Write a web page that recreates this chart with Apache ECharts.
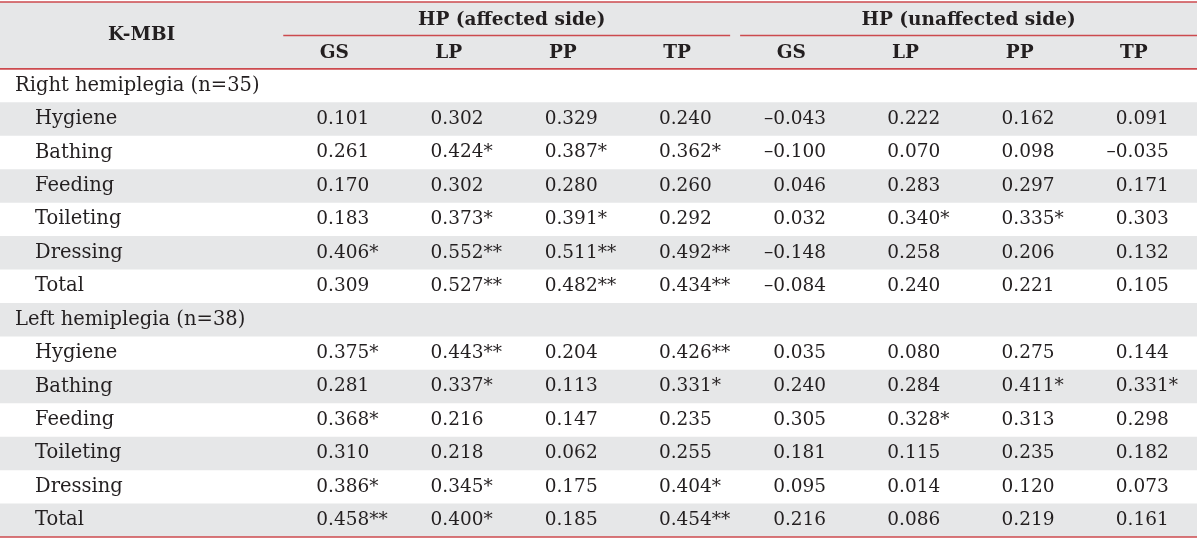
<!DOCTYPE html>
<html>
<head>
<meta charset="utf-8">
<script src="https://cdn.jsdelivr.net/npm/echarts@6/dist/echarts.min.js"></script>
<style>html,body{margin:0;padding:0;background:#fff}#c{width:1200px;height:540px}</style>
</head>
<body>
<div id="c"></div>
<script>
const stubTitle = 'K-MBI';
const groupTitles = ['HP (affected side)', 'HP (unaffected side)'];
const columns = ['GS', 'LP', 'PP', 'TP', 'GS', 'LP', 'PP', 'TP'];
const sectionTitles = ['Right hemiplegia (n=35)', 'Left hemiplegia (n=38)'];
const rowLabels = ['Hygiene', 'Bathing', 'Feeding', 'Toileting', 'Dressing', 'Total'];

const rightValues = [
  [0.101, 0.302, 0.329, 0.240, -0.043, 0.222, 0.162, 0.091],
  [0.261, 0.424, 0.387, 0.362, -0.100, 0.070, 0.098, -0.035],
  [0.170, 0.302, 0.280, 0.260, 0.046, 0.283, 0.297, 0.171],
  [0.183, 0.373, 0.391, 0.292, 0.032, 0.340, 0.335, 0.303],
  [0.406, 0.552, 0.511, 0.492, -0.148, 0.258, 0.206, 0.132],
  [0.309, 0.527, 0.482, 0.434, -0.084, 0.240, 0.221, 0.105]
];
const rightSig = [
  [0, 0, 0, 0, 0, 0, 0, 0],
  [0, 1, 1, 1, 0, 0, 0, 0],
  [0, 0, 0, 0, 0, 0, 0, 0],
  [0, 1, 1, 0, 0, 1, 1, 0],
  [1, 2, 2, 2, 0, 0, 0, 0],
  [0, 2, 2, 2, 0, 0, 0, 0]
];
const leftValues = [
  [0.375, 0.443, 0.204, 0.426, 0.035, 0.080, 0.275, 0.144],
  [0.281, 0.337, 0.113, 0.331, 0.240, 0.284, 0.411, 0.331],
  [0.368, 0.216, 0.147, 0.235, 0.305, 0.328, 0.313, 0.298],
  [0.310, 0.218, 0.062, 0.255, 0.181, 0.115, 0.235, 0.182],
  [0.386, 0.345, 0.175, 0.404, 0.095, 0.014, 0.120, 0.073],
  [0.458, 0.400, 0.185, 0.454, 0.216, 0.086, 0.219, 0.161]
];
const leftSig = [
  [1, 2, 0, 2, 0, 0, 0, 0],
  [0, 1, 0, 1, 0, 0, 1, 1],
  [1, 0, 0, 0, 0, 1, 0, 0],
  [0, 0, 0, 0, 0, 0, 0, 0],
  [1, 1, 0, 1, 0, 0, 0, 0],
  [2, 1, 0, 2, 0, 0, 0, 0]
];

// ---- layout / style ----
const RED = '#cc4a4e';
const GREY = '#e6e7e8';
const INK = '#231f20';
const SERIF = '"DejaVu Serif", "Liberation Serif", serif';
const FS_LABEL = 19.5;
const FS_NUM = 18.5;
const FS_HEAD = 18.5;
const STUB_MIN = -2.48;   // x-axis units: each data column = 1 unit
const X_MAX = 8;

// y categories: 2 header rows + sections
const yCats = ['hdr0', 'hdr1'];
const rowKinds = ['header', 'header'];
const rowTexts = ['', ''];
const sections = [[rightValues, rightSig], [leftValues, leftSig]];
const cells = [];
sections.forEach(function (sec, s) {
  yCats.push(sectionTitles[s]); rowKinds.push('section'); rowTexts.push(sectionTitles[s]);
  rowLabels.forEach(function (lab, i) {
    const r = yCats.length;
    yCats.push(sectionTitles[s] + '|' + lab); rowKinds.push('item'); rowTexts.push(lab);
    sec[0][i].forEach(function (v, j) {
      cells.push({ value: [j, r], v: v, sig: sec[1][i][j] });
    });
  });
});

function fmt(v) { return Math.abs(v).toFixed(3); }

// grey bands: header block (rows 0-1, one band of span 2) and every other body row
const bgData = [[STUB_MIN, 0, 2]];
yCats.forEach(function (c, r) {
  if (r >= 2 && (r - 2) % 2 === 1) bgData.push([STUB_MIN, r, 1]);
});

const option = {
  animation: false,
  grid: { left: 0, right: 3, top: 2, bottom: 3, containLabel: false },
  xAxis: { type: 'value', min: STUB_MIN, max: X_MAX, show: false },
  yAxis: { type: 'category', data: yCats, inverse: true, show: false },
  series: [
    { // row backgrounds
      type: 'custom', silent: true, clip: false, z: 1,
      data: bgData,
      renderItem: function (params, api) {
        const r = api.value(1);
        const span = api.value(2);
        const p0 = api.coord([STUB_MIN, r]);
        const p1 = api.coord([X_MAX, r]);
        const h = api.size([0, 1])[1];
        return { type: 'rect', shape: { x: p0[0], y: p0[1] - h / 2, width: p1[0] - p0[0], height: h * span }, style: { fill: GREY } };
      }
    },
    { // row labels (stub)
      type: 'custom', silent: true, clip: false, z: 3,
      data: yCats.map(function (c, r) { return [STUB_MIN, r]; }),
      renderItem: function (params, api) {
        const r = api.value(1);
        const kind = rowKinds[r];
        if (kind === 'header') return null;
        const p = api.coord([STUB_MIN, r]);
        return { type: 'text', style: { text: rowTexts[r], x: p[0] + (kind === 'section' ? 15 : 35), y: p[1], verticalAlign: 'middle', align: 'left', fill: INK, font: FS_LABEL + 'px ' + SERIF } };
      }
    },
    { // data cells
      type: 'custom', silent: true, clip: false, z: 3,
      data: cells.map(function (c) { return c.value; }),
      renderItem: function (params, api) {
        const c = cells[params.dataIndex];
        const p = api.coord([api.value(0), api.value(1)]);
        const x = p[0] + 33;
        const f = FS_NUM + 'px ' + SERIF;
        const children = [{ type: 'text', style: { text: fmt(c.v) + '*'.repeat(c.sig), x: x, y: p[1], align: 'left', verticalAlign: 'middle', fill: INK, font: f } }];
        if (c.v < 0) children.push({ type: 'text', style: { text: '\u2013', x: x, y: p[1], align: 'right', verticalAlign: 'middle', fill: INK, font: f } });
        return { type: 'group', children: children };
      }
    },
    { // header texts
      type: 'custom', silent: true, clip: false, z: 3,
      data: [[0, 0]],
      renderItem: function (params, api) {
        const h = api.size([0, 1])[1];
        const bold = 'bold ' + FS_HEAD + 'px ' + SERIF;
        const ch = [];
        const s0 = api.coord([STUB_MIN, 0]);
        const s1 = api.coord([0, 0]);
        ch.push({ type: 'text', style: { text: stubTitle, x: (s0[0] + s1[0]) / 2, y: s0[1] + h / 2, align: 'center', verticalAlign: 'middle', fill: INK, font: bold } });
        groupTitles.forEach(function (g, k) {
          const a = api.coord([k * 4, 0]), b = api.coord([k * 4 + 4, 0]);
          ch.push({ type: 'text', style: { text: g, x: (a[0] + b[0]) / 2, y: a[1] + 1, align: 'center', verticalAlign: 'middle', fill: INK, font: bold } });
        });
        columns.forEach(function (c, j) {
          const a = api.coord([j + 0.5, 1]);
          ch.push({ type: 'text', style: { text: c, x: a[0] - 6, y: a[1] + 1, align: 'center', verticalAlign: 'middle', fill: INK, font: bold } });
        });
        return { type: 'group', children: ch };
      }
    },
    { // rules
      type: 'custom', silent: true, clip: false, z: 4,
      data: [[0, 0]],
      renderItem: function (params, api) {
        const h = api.size([0, 1])[1];
        const st = { stroke: RED, lineWidth: 1.6 };
        const L = api.coord([STUB_MIN, 0])[0], R = api.coord([X_MAX, 0])[0];
        const yTop = api.coord([0, 0])[1] - h / 2;
        const yMid = api.coord([0, 0])[1] + h / 2;
        const yHdr = api.coord([0, 1])[1] + h / 2;
        const yBot = api.coord([0, yCats.length - 1])[1] + h / 2;
        const g1a = api.coord([0, 0])[0], g1b = api.coord([4, 0])[0] - 10;
        const g2a = api.coord([4, 0])[0], g2b = R;
        const line = function (x1, y1, x2, y2) { return { type: 'line', shape: { x1: x1, y1: y1, x2: x2, y2: y2 }, style: st }; };
        return { type: 'group', children: [
          line(L, yTop, R, yTop), line(g1a, yMid, g1b, yMid), line(g2a, yMid, g2b, yMid),
          line(L, yHdr, R, yHdr), line(L, yBot, R, yBot)
        ] };
      }
    }
  ]
};
const chart = echarts.init(document.getElementById('c'), null, { renderer: 'canvas' });
chart.setOption(option);
</script>
</body>
</html>
